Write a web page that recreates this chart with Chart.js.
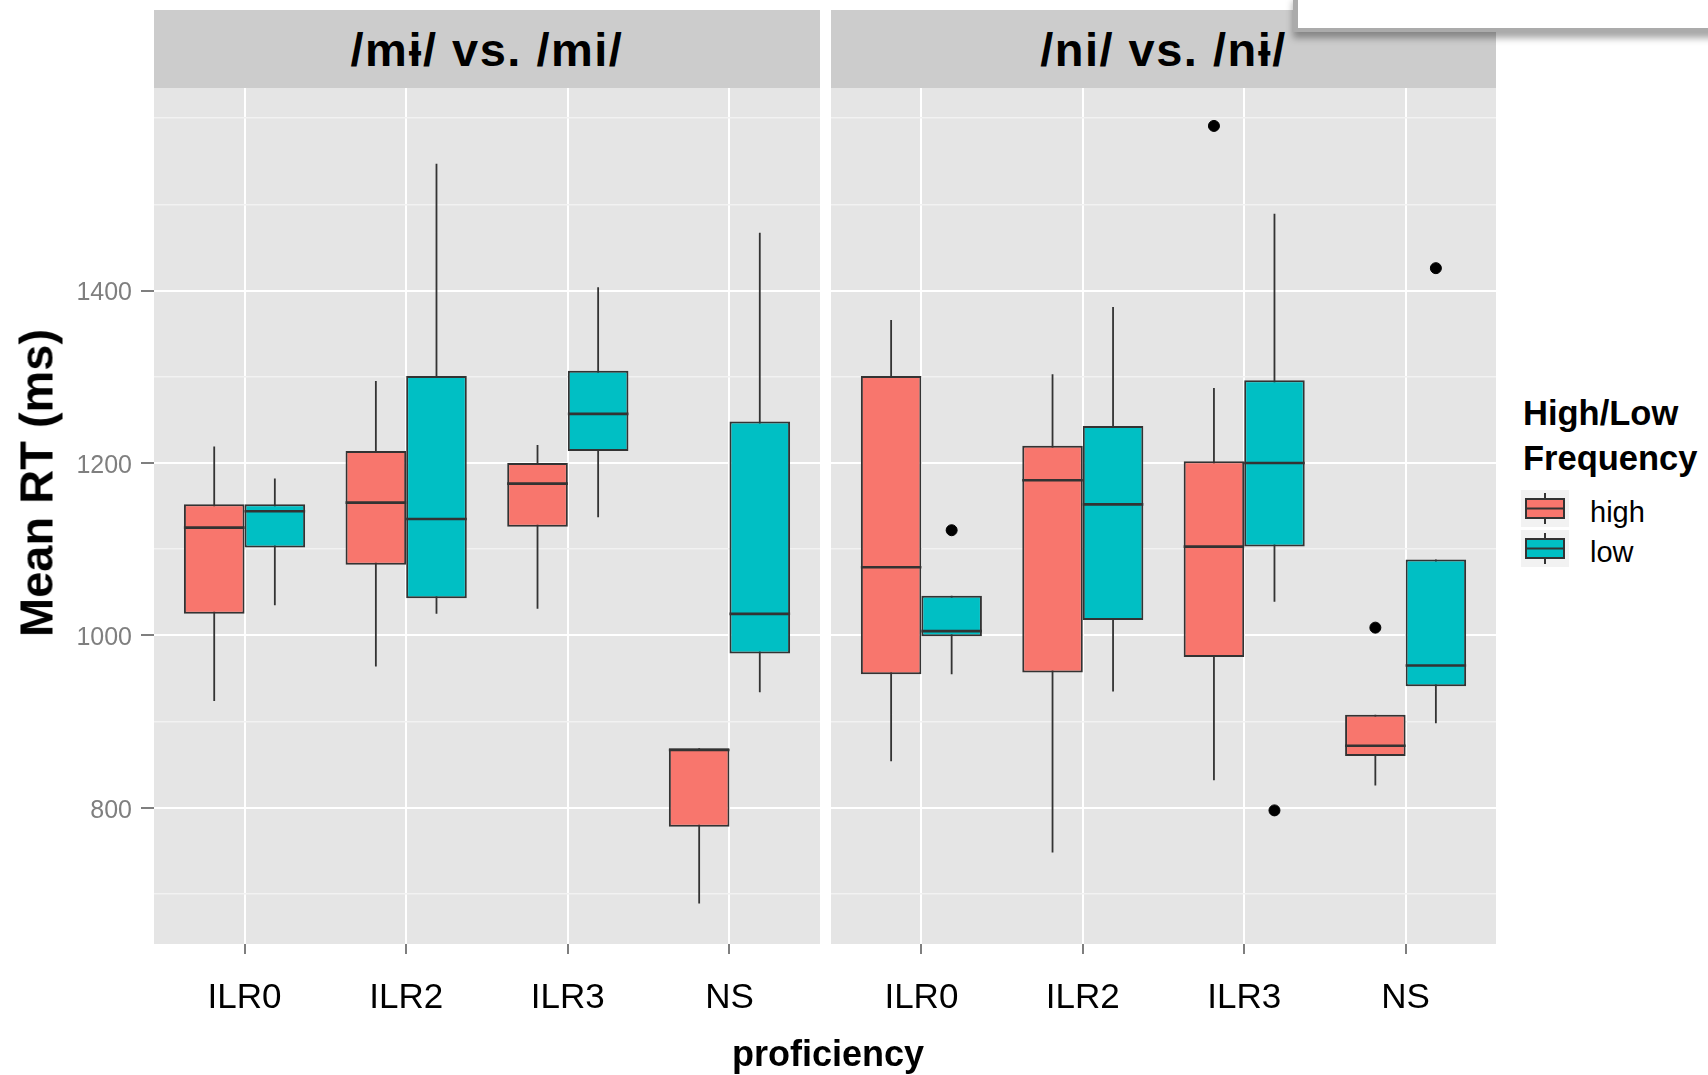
<!DOCTYPE html>
<html>
<head>
<meta charset="utf-8">
<script src="https://cdn.jsdelivr.net/npm/chart.js@4.4.1/dist/chart.umd.min.js"></script>
<style>
  body { margin:0; width:1708px; height:1075px; background:#fff; position:relative; overflow:hidden;
         font-family:"Liberation Sans", Arial, sans-serif; }
  canvas { position:absolute; top:0; }
  .strip { position:absolute; top:10px; height:78px; background:#CCCCCC; display:flex;
           align-items:center; justify-content:center; font-weight:bold; font-size:47px; color:#000;
           letter-spacing:1.5px; }
  .abs { position:absolute; white-space:nowrap; }
</style>
</head>
<body>
<canvas id="leftPanel" width="820" height="1075" style="left:0px"></canvas>
<canvas id="rightPanel" width="665" height="1075" style="left:831px"></canvas>
<div class="strip" id="strip0" style="left:154px;width:666px"></div>
<div class="strip" id="strip1" style="left:831px;width:665px"></div>
<div class="abs" id="yTitle" style="left:36px;top:483px;transform:translate(-50%,-50%) rotate(-90deg);font-weight:bold;font-size:47px;line-height:1"></div>
<div class="abs" id="xTitle" style="left:828px;top:1036px;transform:translateX(-50%);font-weight:bold;font-size:36px;line-height:1"></div>
<div class="abs" id="legTitle" style="left:1523px;top:391px;font-weight:bold;font-size:34.5px;line-height:45px"></div>
<div id="legItems"></div>
<!-- white callout box over the top right corner -->
<div class="abs" style="left:1293px;top:-5px;width:420px;height:33px;background:#fff;border-left:5px solid #ababab;border-bottom:4px solid #ababab;box-shadow:0 6px 7px rgba(0,0,0,0.35)"></div>

<script>
// categories and labels
var categories = ['ILR0', 'ILR2', 'ILR3', 'NS'];
var panelTitles = ['/m\u0268/ vs. /mi/', '/ni/ vs. /n\u0268/'];
var groupNames = ['high', 'low'];
var legendTitle = ['High/Low', 'Frequency'];
var yTitle = 'Mean RT (ms)';
var xTitle = 'proficiency';

// y axis
var yMin = 642;
var yMax = 1635;
var yGrid = [700, 800, 900, 1000, 1100, 1200, 1300, 1400, 1500, 1600];
var yLabels = [800, 1000, 1200, 1400];

// boxes: [lower whisker, q1, median, q3, upper whisker] per category
var miHigh = [[924, 1025, 1125, 1152, 1219], [964, 1082, 1154, 1214, 1295], [1031, 1126, 1176, 1200, 1221], [689, 778, 867, 869, 869]];
var miLow  = [[1035, 1102, 1144, 1152, 1182], [1025, 1043, 1135, 1301, 1547], [1137, 1214, 1257, 1307, 1404], [934, 979, 1025, 1248, 1467]];
var niHigh = [[854, 955, 1079, 1301, 1366], [748, 957, 1180, 1220, 1303], [832, 975, 1103, 1202, 1287], [826, 860, 872, 908, 908]];
var niLow  = [[955, 999, 1005, 1046, 1046], [935, 1018, 1152, 1243, 1381], [1039, 1103, 1200, 1296, 1489], [898, 941, 965, 1088, 1088]];

// outliers: [category, value]
var miHighOut = [];
var miLowOut = [];
var niHighOut = [['ILR3', 1591], ['NS', 1009]];
var niLowOut = [['ILR0', 1122], ['ILR3', 797], ['NS', 1426]];

var fills = ['#F8766D', '#00BFC4'];
var lineCol = '#333333';

Chart.defaults.font.family = "'Liberation Sans', Arial, sans-serif";

//grey panel background
var panelBg = {
  id: 'panelBg',
  beforeDraw: function(chart) {
    var a = chart.chartArea, ctx = chart.ctx;
    ctx.save();
    ctx.fillStyle = '#E5E5E5';
    ctx.fillRect(a.left, a.top, a.right - a.left, a.bottom - a.top);
    ctx.restore();
  }
};

function makeDatasets(high, low, highOut, lowOut) {
  var ds = [];
  var boxW = 0.375;   // dodge width of one box in category units
  [high, low].forEach(function(boxes, g) {
    var side = g == 0 ? -1 : 1;
    ds.push({
      type: 'bar', label: groupNames[g],
      data: boxes.map(function(b, i) { return {x: i + 1, y: [b[1], b[3]]}; }),
      backgroundColor: fills[g], borderColor: lineCol, borderWidth: 2, borderSkipped: false,
      categoryPercentage: 0.75, barPercentage: 1, order: 2
    });
    var wh = [];
    var md = [];
    boxes.forEach(function(b, i) {
      var cx = i + 1 + side * boxW / 2;
      wh.push({x: cx, y: b[0]}, {x: cx, y: b[4]}, {x: cx, y: null});
      md.push({x: i + 1, y: b[2]}, {x: i + 1 + side * boxW, y: b[2]}, {x: i + 1, y: null});
    });
    ds.push({type: 'line', data: wh, borderColor: lineCol, borderWidth: 1.8, pointRadius: 0, spanGaps: false, fill: false, order: 3});
    ds.push({type: 'line', data: md, borderColor: lineCol, borderWidth: 2.6, pointRadius: 0, spanGaps: false, fill: false, order: 1});
    var outs = g == 0 ? highOut : lowOut;
    ds.push({
      type: 'scatter',
      data: outs.map(function(o) { return {x: categories.indexOf(o[0]) + 1 + side * boxW / 2, y: o[1]}; }),
      backgroundColor: '#000', borderColor: '#000', pointRadius: 5.5, pointHoverRadius: 5.5, order: 0
    });
  });
  return ds;
}

function makePanel(id, high, low, highOut, lowOut, showY) {
  new Chart(document.getElementById(id), {
    type: 'bar',
    data: {datasets: makeDatasets(high, low, highOut, lowOut)},
    plugins: [panelBg],
    options: {
      responsive: false,
      animation: false,
      devicePixelRatio: 1,
      layout: {autoPadding: false, padding: {top: 88, left: 0, right: 0, bottom: 0}},
      plugins: {legend: {display: false}, tooltip: {enabled: false}},
      scales: {
        x: {
          type: 'linear', min: 0.44, max: 4.56, offset: false,
          afterBuildTicks: function(s) { s.ticks = categories.map(function(c, i) { return {value: i + 1}; }); },
          afterFit: function(s) { s.height = 131; s.paddingLeft = 0; s.paddingRight = 0; },
          border: {display: false},
          grid: {offset: false, color: '#FFFFFF', lineWidth: 2, tickColor: '#7F7F7F', tickLength: 10, tickWidth: 2},
          ticks: {
            autoSkip: false, maxRotation: 0, padding: 23, color: '#000',
            font: {size: 35},
            callback: function(v) { return categories[v - 1]; }
          }
        },
        y: {
          type: 'linear', min: yMin, max: yMax, beginAtZero: false,
          afterBuildTicks: function(s) { s.ticks = yGrid.map(function(v) { return {value: v}; }); },
          afterFit: function(s) { s.width = showY ? 154 : 0; s.paddingTop = 0; s.paddingBottom = 0; },
          border: {display: false},
          grid: {
            color: function(c) { return yLabels.indexOf(c.tick.value) >= 0 ? '#FFFFFF' : '#F2F2F2'; },
            lineWidth: function(c) { return yLabels.indexOf(c.tick.value) >= 0 ? 2 : 1.4; },
            tickColor: function(c) { return yLabels.indexOf(c.tick.value) >= 0 ? '#7F7F7F' : 'rgba(0,0,0,0)'; },
            drawTicks: showY, tickLength: 13, tickWidth: 2
          },
          ticks: {
            display: showY, autoSkip: false, padding: 9, labelOffset: 3, color: '#7F7F7F',
            font: {size: 25},
            callback: function(v) { return yLabels.indexOf(v) >= 0 ? String(v) : ''; }
          }
        }
      }
    }
  });
}

function keySvg(color) {
  return '<svg width="48" height="37" xmlns="http://www.w3.org/2000/svg">' +
    '<rect width="48" height="37" fill="#F2F2F2"/>' +
    '<line x1="24" y1="3" x2="24" y2="34" stroke="' + lineCol + '" stroke-width="2"/>' +
    '<rect x="5" y="9" width="38" height="19" fill="' + color + '" stroke="' + lineCol + '" stroke-width="2"/>' +
    '<line x1="5" y1="18.5" x2="43" y2="18.5" stroke="' + lineCol + '" stroke-width="2"/></svg>';
}

function buildText() {
  document.getElementById('strip0').textContent = panelTitles[0];
  document.getElementById('strip1').textContent = panelTitles[1];
  document.getElementById('yTitle').textContent = yTitle;
  document.getElementById('xTitle').textContent = xTitle;
  document.getElementById('legTitle').innerHTML = legendTitle.join('<br>');
  var html = '';
  groupNames.forEach(function(name, g) {
    var top = 490 + g * 40;
    html += '<div class="abs" style="left:1521px;top:' + top + 'px;width:48px;height:37px">' + keySvg(fills[g]) + '</div>';
    html += '<div class="abs" style="left:1590px;top:' + (top + 7.5) + 'px;font-size:29px;line-height:1">' + name + '</div>';
  });
  document.getElementById('legItems').innerHTML = html;
}

buildText();
makePanel('leftPanel', miHigh, miLow, miHighOut, miLowOut, true);
makePanel('rightPanel', niHigh, niLow, niHighOut, niLowOut, false);
</script>
</body>
</html>
